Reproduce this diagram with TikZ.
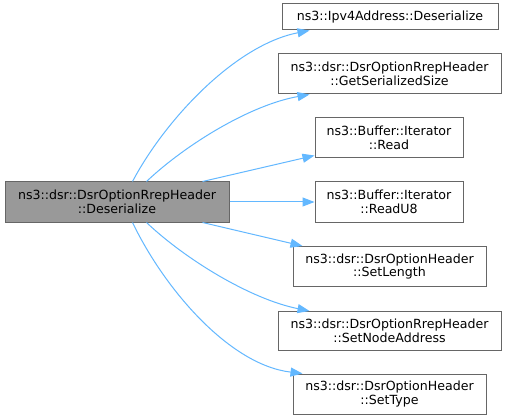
\documentclass[tikz,border=0pt]{standalone}
\usepackage{fontspec}
\setmainfont{DejaVu Sans}
\usetikzlibrary{arrows.meta}
\definecolor{edgeblue}{HTML}{63B8FF}
\definecolor{boxborder}{HTML}{666666}
\definecolor{mainfill}{HTML}{999999}
\begin{document}
\begin{tikzpicture}[x=1pt,y=-1pt,
  fn/.style={draw=boxborder,line width=1pt,fill=white,inner sep=0pt,align=center,
    font=\fontsize{12.6}{13.5}\selectfont},
  mainfn/.style={fn,fill=mainfill},
  edge/.style={draw=edgeblue,line width=1pt,-{Triangle[length=12pt,width=9pt]}}]
\fill[white] (0,0) rectangle (507,420);
\useasboundingbox (0,0) rectangle (507,420);
\node[mainfn,minimum width=224pt,minimum height=40pt] (main) at (117,202) {ns3::dsr::DsrOptionRrepHeader\\::Deserialize};
\node[fn,minimum width=216pt,minimum height=26pt] (ipv4) at (390,17) {ns3::Ipv4Address::Deserialize};
\node[fn,minimum width=223pt,minimum height=40pt] (gss) at (389.5,74) {ns3::dsr::DsrOptionRrepHeader\\::GetSerializedSize};
\node[fn,minimum width=148pt,minimum height=40pt] (read) at (389,138) {ns3::Buffer::Iterator\\::Read};
\node[fn,minimum width=148pt,minimum height=40pt] (readu8) at (389,202) {ns3::Buffer::Iterator\\::ReadU8};
\node[fn,minimum width=193pt,minimum height=40pt] (setlength) at (389.5,266.5) {ns3::dsr::DsrOptionHeader\\::SetLength};
\node[fn,minimum width=223pt,minimum height=39pt] (sna) at (389.5,331) {ns3::dsr::DsrOptionRrepHeader\\::SetNodeAddress};
\node[fn,minimum width=193pt,minimum height=40pt] (settype) at (389.5,394) {ns3::dsr::DsrOptionHeader\\::SetType};
\draw[edge] ([xshift=128pt]main.north west) .. controls (165,120) and (235,45) .. ([xshift=28pt]ipv4.south west);
\draw[edge] ([xshift=142pt]main.north west) .. controls (185,145) and (250,105) .. ([xshift=32pt]gss.south west);
\draw[edge] ([xshift=198pt]main.north west) -- ([yshift=3pt]read.south west);
\draw[edge] (main.east) -- (readu8.west);
\draw[edge] ([xshift=198pt]main.south west) -- ([xshift=10pt]setlength.north west);
\draw[edge] ([xshift=142pt]main.south west) .. controls (185,259) and (250,299) .. ([xshift=32pt]sna.north west);
\draw[edge] ([xshift=128pt]main.south west) .. controls (165,290) and (230,365) .. ([xshift=10pt]settype.north west);
\end{tikzpicture}
\end{document}
